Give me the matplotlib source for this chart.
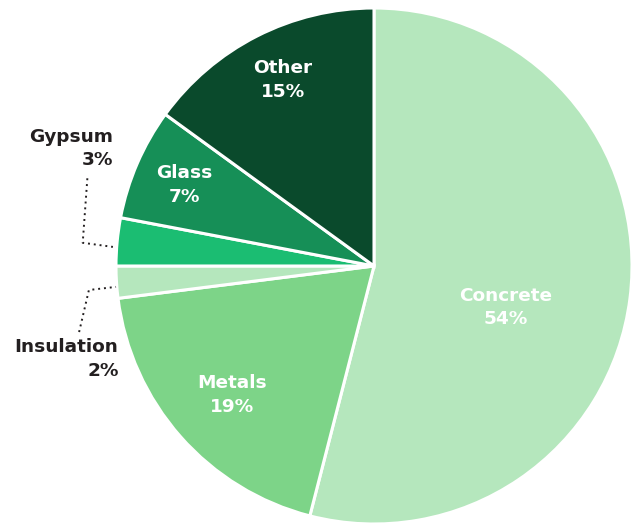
import numpy as np
import matplotlib.pyplot as plt

plt.rcParams['font.family'] = ['DejaVu Sans']

materials = ['Concrete', 'Metals', 'Insulation', 'Gypsum', 'Glass', 'Other']
shares = [54, 19, 2, 3, 7, 15]
colors = ['#b5e7bd', '#7dd488', '#b5e7bd', '#1bbd72', '#168f57', '#0a4a2c']

fig = plt.figure(figsize=(6.33, 5.23), dpi=100)
ax = fig.add_axes([116 / 633, -1 / 523, 516 / 633, 516 / 523])

wedges, _ = ax.pie(shares, colors=colors, startangle=90, counterclock=False,
                   radius=1.0, wedgeprops=dict(edgecolor='white', linewidth=2.2))
ax.set_xlim(-1, 1)
ax.set_ylim(-1, 1)
ax.set_aspect('equal')
ax.axis('off')

labels = [f'{m}\n{s}%' for m, s in zip(materials, shares)]
font = dict(fontsize=13.3, fontweight='bold', linespacing=1.38)

# labels inside the wedges (white)
inside = {'Concrete': (0.51, -0.16), 'Metals': (-0.55, -0.50),
          'Glass': (-0.736, 0.314), 'Other': (-0.353, 0.721)}
for lab, m in zip(labels, materials):
    if m in inside:
        x, y = inside[m]
        ax.text(x, y, lab, ha='center', va='center', color='white', **font)

# small slices labelled outside with dotted leaders
outside = {'Gypsum': ((-1.012, 0.456), [(-1.111, 0.34), (-1.129, 0.09), (-1.012, 0.074)]),
           'Insulation': ((-0.99, -0.36), [(-1.143, -0.256), (-1.105, -0.093), (-1.0, -0.081)])}
for lab, m in zip(labels, materials):
    if m in outside:
        (x, y), path = outside[m]
        ax.text(x, y, lab, ha='right', va='center', color='#231f20',
                multialignment='right', clip_on=False, **font)
        px, py = zip(*path)
        ax.plot(px, py, color='#231f20', linestyle=(0, (1, 2.0)), linewidth=1.4,
                clip_on=False)

fig.savefig('out.png', dpi=100)
